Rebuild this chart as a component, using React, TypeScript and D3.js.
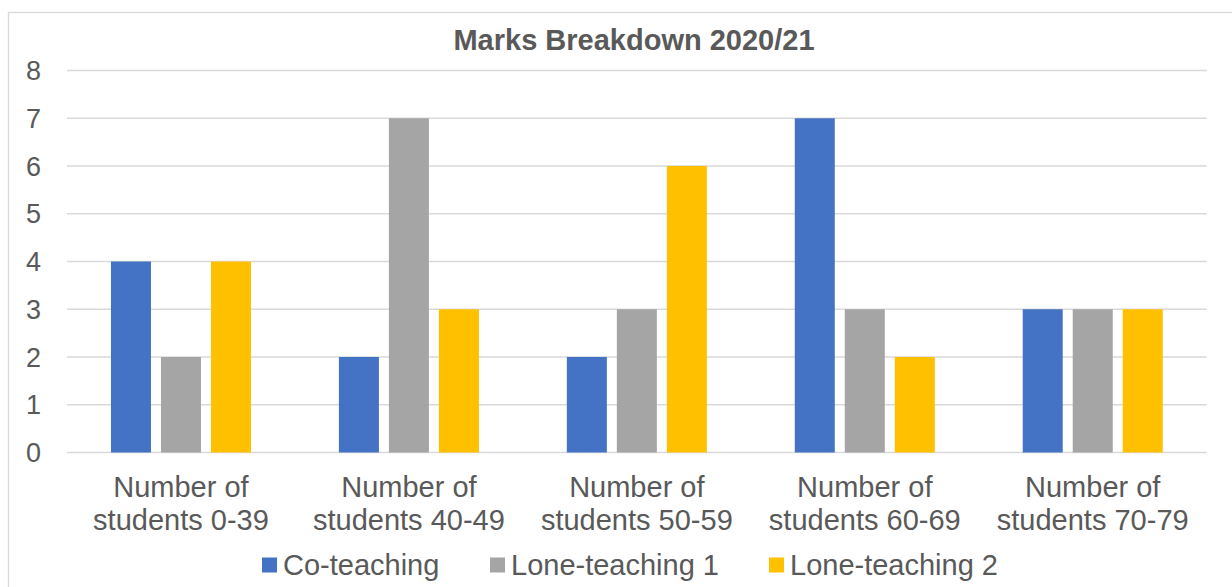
import React from "react";
import * as d3 from "d3";

const categories: string[][] = [
  ["Number of", "students 0-39"],
  ["Number of", "students 40-49"],
  ["Number of", "students 50-59"],
  ["Number of", "students 60-69"],
  ["Number of", "students 70-79"],
];
const seriesNames = ["Co-teaching", "Lone-teaching 1", "Lone-teaching 2"];
const coTeaching = [4, 2, 2, 7, 3];
const loneTeaching1 = [2, 7, 3, 3, 3];
const loneTeaching2 = [4, 3, 6, 2, 3];
const yTicks = [0, 1, 2, 3, 4, 5, 6, 7, 8];
const title = "Marks Breakdown 2020/21";

const colors = ["#4472C4", "#A5A5A5", "#FFC000"];
const textColor = "#595959";
const gridColor = "#D9D9D9";
const FONT = "'Liberation Sans', Arial, sans-serif";

export default function App() {
  const W = 1232;
  const H = 587;
  const plotLeft = 67;
  const plotRight = 1206.7;
  const yTop = 70.5;
  const yBottom = 452.5;

  const series = [coTeaching, loneTeaching1, loneTeaching2];
  const catKeys = categories.map((c) => c.join(" "));

  const x0 = d3.scaleBand<string>().domain(catKeys).range([plotLeft, plotRight]).paddingInner(0).paddingOuter(0);
  const x1 = d3
    .scaleBand<string>()
    .domain(seriesNames)
    .range([0, x0.bandwidth()])
    .paddingInner(0.2)
    .paddingOuter(0.879);
  const y = d3.scaleLinear().domain([0, 8]).range([yBottom, yTop]);

  return (
    <svg
      width={W}
      height={H}
      style={{ position: "absolute", left: 0, top: 0, background: "#fff" }}
      fontFamily={FONT}
    >
      <rect x={8.5} y={12.5} width={W} height={H} fill="#fff" stroke={gridColor} strokeWidth={1.3} />
      <text x={634} y={50} textAnchor="middle" fontSize={29} fontWeight="bold" fill={textColor}>
        {title}
      </text>
      {yTicks.map((t) => (
        <g key={t}>
          <line x1={plotLeft} x2={plotRight} y1={y(t)} y2={y(t)} stroke={gridColor} strokeWidth={1.6} />
          <text x={41} y={y(t) + 9.5} textAnchor="end" fontSize={27} fill={textColor}>
            {t}
          </text>
        </g>
      ))}
      {catKeys.map((c, i) => (
        <g key={c} transform={`translate(${x0(c)},0)`}>
          {seriesNames.map((s, j) => {
            const v = series[j][i];
            return (
              <rect
                key={s}
                x={x1(s)}
                y={y(v)}
                width={x1.bandwidth()}
                height={y(0) - y(v)}
                fill={colors[j]}
              />
            );
          })}
          <text
            x={x0.bandwidth() / 2}
            y={497}
            textAnchor="middle"
            fontSize={29}
            fill={textColor}
          >
            <tspan x={x0.bandwidth() / 2}>{categories[i][0]}</tspan>
            <tspan x={x0.bandwidth() / 2} dy={33}>
              {categories[i][1]}
            </tspan>
          </text>
        </g>
      ))}
      {seriesNames.map((s, j) => {
        const lx = [262, 490, 769][j];
        return (
          <g key={s}>
            <rect x={lx} y={557.5} width={15} height={15} fill={colors[j]} />
            <text x={lx + 21} y={574.5} fontSize={29} fill={textColor}>
              {s}
            </text>
          </g>
        );
      })}
    </svg>
  );
}
